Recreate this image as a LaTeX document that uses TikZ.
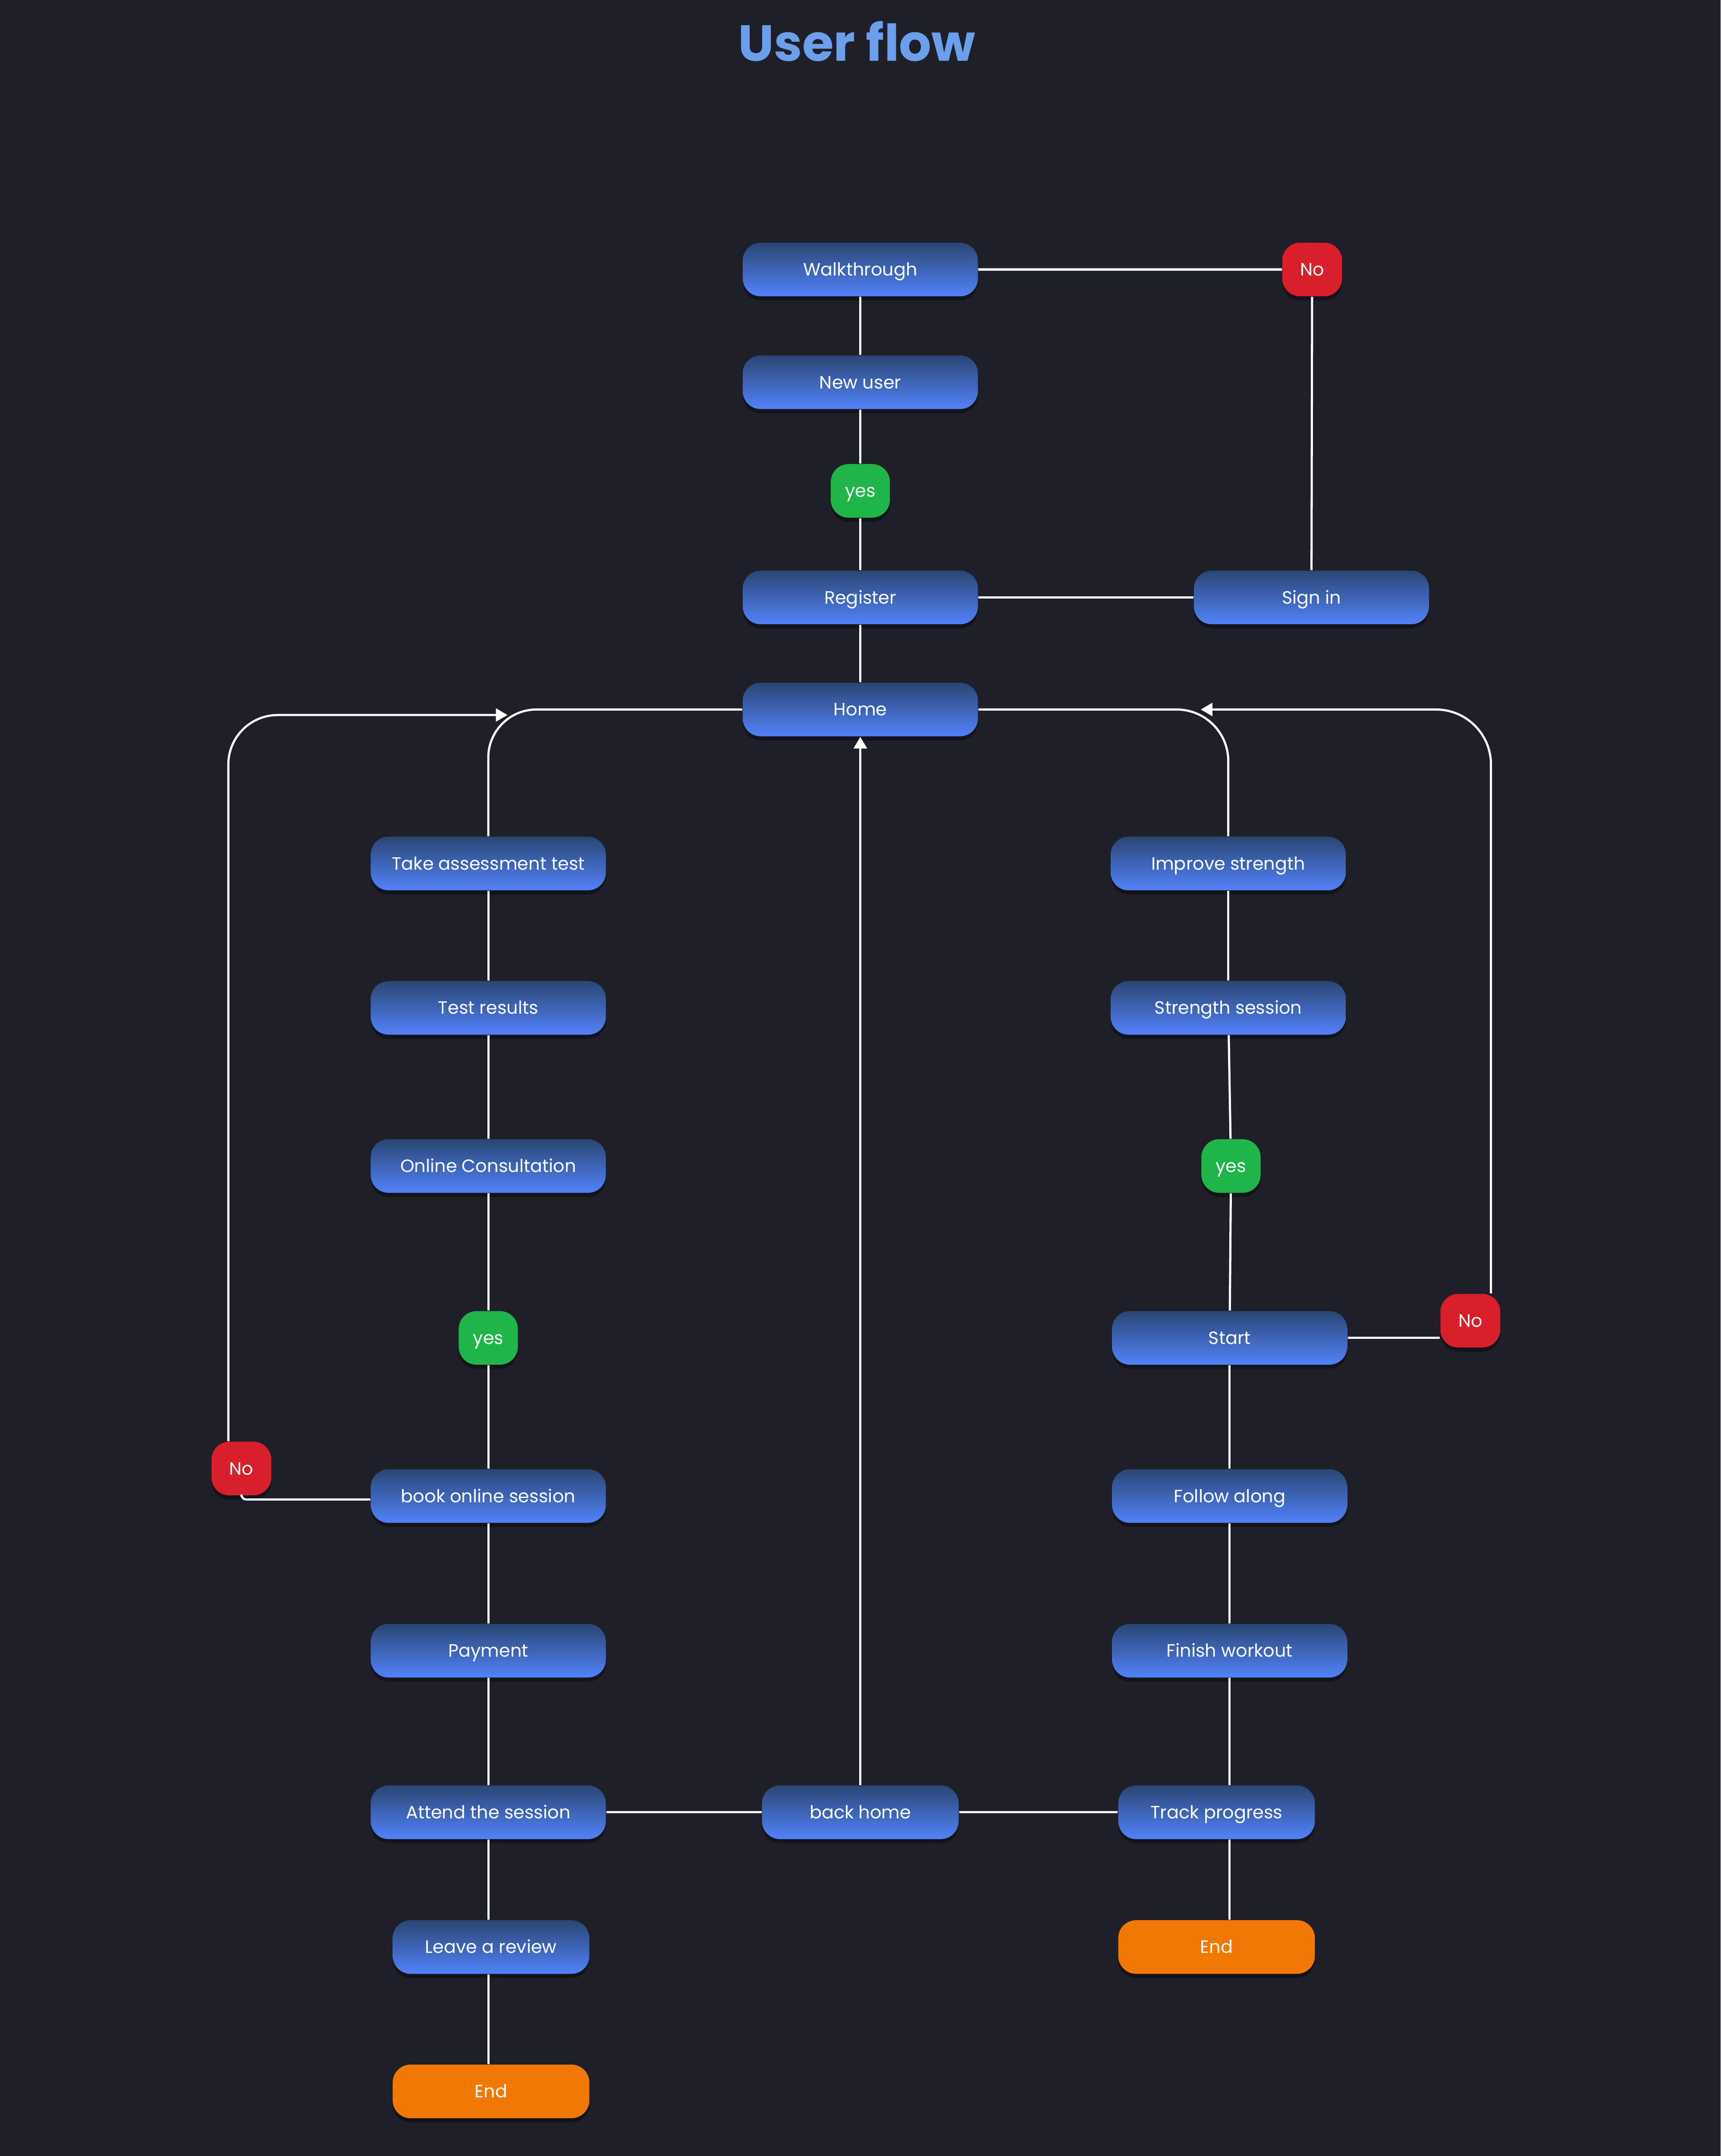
\documentclass[tikz,border=0pt]{standalone}
\usepackage{fontspec}
\setmainfont{Poppins}
\usetikzlibrary{arrows.meta,shadows}
\definecolor{bgdark}{HTML}{1E1F29}
\definecolor{boxtop}{HTML}{2A4673}
\definecolor{boxbot}{HTML}{5282FA}
\definecolor{nored}{HTML}{D91F2B}
\definecolor{yesgreen}{HTML}{20B54B}
\definecolor{endorange}{HTML}{F27806}
\definecolor{titleblue}{HTML}{6C9FEB}
\tikzset{
  pill/.style={rounded corners=0.26cm, minimum height=0.78cm, inner sep=0pt, text=white,
    font=\fontsize{7.4}{8.9}\selectfont, text height=5.2pt, text depth=0pt,
    drop shadow={shadow xshift=0cm, shadow yshift=-0.06cm, opacity=0.35, fill=black}},
  stepbox/.style={pill, minimum width=3.42cm, top color=boxtop, bottom color=boxbot},
  shortbox/.style={stepbox, minimum width=2.86cm},
  nobox/.style={pill, minimum width=0.87cm, fill=nored},
  yesbox/.style={pill, minimum width=0.86cm, fill=yesgreen},
  endbox/.style={pill, minimum width=2.86cm, fill=endorange},
  link/.style={white, line width=0.9pt}
}
\begin{document}
\begin{tikzpicture}[x=0.02cm, y=-0.02cm, >={Triangle[width=0.19cm, length=0.17cm]}]
\useasboundingbox (0,0) rectangle (1251,1568);
\fill [bgdark] (0,0) rectangle (1251,1568);
\node [text=titleblue, font=\fontsize{21}{25}\selectfont\bfseries] (title) at (623,30) {User flow};

\node [stepbox] (walk) at (625.5,196) {Walkthrough};
\node [nobox] (notop) at (954,196) {No};
\node [stepbox] (newuser) at (625.5,278) {New user};
\node [yesbox] (yestop) at (625.5,357) {yes};
\node [stepbox] (register) at (625.5,434.5) {Register};
\node [stepbox] (signin) at (953.5,434.5) {Sign in};
\node [stepbox] (home) at (625.5,516) {Home};

\node [stepbox] (assess) at (355,628) {Take assessment test};
\node [stepbox] (results) at (355,733) {Test results};
\node [stepbox] (consult) at (355,848) {Online Consultation};
\node [yesbox] (yesleft) at (355,973) {yes};
\node [stepbox] (book) at (355,1088) {book online session};
\node [nobox] (nobook) at (175.5,1068) {No};
\node [stepbox] (pay) at (355,1200.5) {Payment};
\node [stepbox] (attend) at (355,1318) {Attend the session};
\node [shortbox] (review) at (357,1416) {Leave a review};
\node [endbox] (endleft) at (357,1521) {End};

\node [shortbox] (back) at (625.5,1318) {back home};

\node [stepbox] (improve) at (893,628) {Improve strength};
\node [stepbox] (strength) at (893,733) {Strength session};
\node [yesbox] (yesright) at (895,848) {yes};
\node [stepbox] (start) at (894,973) {Start};
\node [nobox] (nostart) at (1069,960.5) {No};
\node [stepbox] (follow) at (894,1088) {Follow along};
\node [stepbox] (finish) at (894,1200.5) {Finish workout};
\node [shortbox] (track) at (884.5,1318) {Track progress};
\node [endbox] (endright) at (884.5,1416) {End};

\coordinate (assessin) at (369,520);
\coordinate (homein) at (873,516);

\draw [link] (walk) to (notop);
\draw [link] (notop) to (signin);
\draw [link] (walk) to (newuser);
\draw [link] (newuser) to (yestop);
\draw [link] (yestop) to (register);
\draw [link] (register) to (signin);
\draw [link] (register) to (home);
\draw [link, rounded corners=0.7cm] (home.west) -| (assess.north);
\draw [link, rounded corners=0.75cm] (home.east) -| (improve.north);
\draw [link, ->] (back) to (home);

\draw [link] (assess) to (results);
\draw [link] (results) to (consult);
\draw [link] (consult) to (yesleft);
\draw [link] (yesleft) to (book);
\draw [link] (book) to (pay);
\draw [link] (pay) to (attend);
\draw [link] (attend.south -| book) to (review.north -| book);
\draw [link] (review.south -| book) to (endleft.north -| book);
\draw [link, rounded corners=0.07cm] ([yshift=-0.05cm]book.west) -| (nobook.south);
\draw [link, ->, rounded corners=0.72cm] ([xshift=-0.19cm]nobook.north) |- (assessin);

\draw [link] (attend) to (back);
\draw [link] (back) to (track);

\draw [link] (improve) to (strength);
\draw [link] (strength) to (yesright);
\draw [link] (yesright) to (start);
\draw [link] (start.east) to (start.east -| nostart.west);
\draw [link, ->, rounded corners=0.8cm] ([xshift=0.3cm]nostart.north) |- (homein);
\draw [link] (start) to (follow);
\draw [link] (follow) to (finish);
\draw [link] (finish.south) to (finish.south |- track.north);
\draw [link] (track.south -| finish) to (endright.north -| finish);
\end{tikzpicture}
\end{document}
